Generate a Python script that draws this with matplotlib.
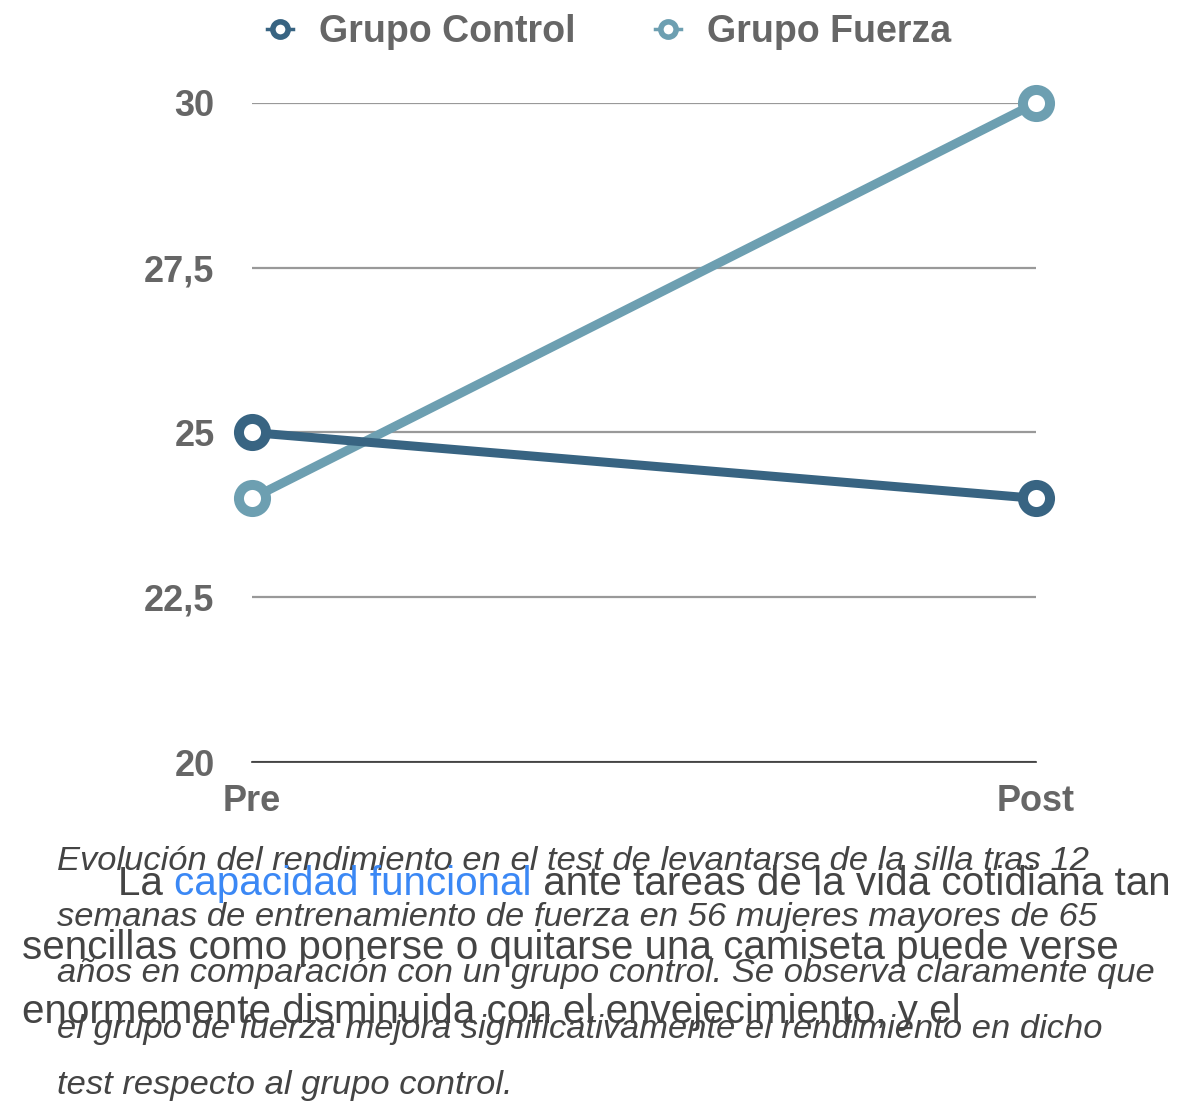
import matplotlib
matplotlib.use("Agg")
import matplotlib.pyplot as plt
from matplotlib.lines import Line2D

# ---- data ----
categories = ["Pre", "Post"]
control = [25, 24]
fuerza = [24, 30]
series_names = ["Grupo Control", "Grupo Fuerza"]
yticks = [20, 22.5, 25, 27.5, 30]
ytick_labels = ["20", "22,5", "25", "27,5", "30"]

caption_lines = [
    "Evolución del rendimiento en el test de levantarse de la silla tras 12",
    "semanas de entrenamiento de fuerza en 56 mujeres mayores de 65",
    "años en comparación con un grupo control. Se observa claramente que",
    "el grupo de fuerza mejora significativamente el rendimiento en dicho",
    "test respecto al grupo control.",
]
para_segments_line1 = [("La ", "#444444"), ("capacidad funcional", "#3b88f5"),
                       (" ante tareas de la vida cotidiana tan", "#444444")]
para_lines = [
    "sencillas como ponerse o quitarse una camiseta puede verse",
    "enormemente disminuida con el envejecimiento, y el",
]

C_CONTROL = "#386482"
C_FUERZA = "#6d9fb1"
C_TICK = "#666666"

W, H = 1198, 1102
fig = plt.figure(figsize=(W / 100, H / 100), dpi=100)
plt.rcParams["font.family"] = ["Liberation Sans", "DejaVu Sans"]

ax = fig.add_axes([252 / W, 1 - 762 / H, (1036 - 252) / W, (762 - 103) / H])
x = list(range(len(categories)))

ax.plot(x, fuerza, color=C_FUERZA, lw=6.5, marker="o", ms=19.5, mew=7.2,
        mfc="white", mec=C_FUERZA, clip_on=False, zorder=3, solid_capstyle="butt")
ax.plot(x, control, color=C_CONTROL, lw=6.5, marker="o", ms=19.5, mew=7.2,
        mfc="white", mec=C_CONTROL, clip_on=False, zorder=4, solid_capstyle="butt")

ax.set_xlim(0, 1)
ax.set_ylim(20, 30)
ax.set_yticks(yticks)
ax.set_yticklabels(ytick_labels)
ax.set_xticks(x)
ax.set_xticklabels(categories)
for s in ["top", "right", "left"]:
    ax.spines[s].set_visible(False)
ax.spines["bottom"].set_color("#333333")
ax.spines["bottom"].set_linewidth(1.2)
ax.grid(axis="y", color="#999999", lw=1.6)
ax.set_axisbelow(True)
ax.tick_params(axis="y", length=0, pad=27, labelsize=26, labelcolor=C_TICK)
ax.tick_params(axis="x", length=0, pad=16, labelsize=26, labelcolor=C_TICK)
for lab in ax.get_xticklabels() + ax.get_yticklabels():
    lab.set_fontweight("bold")

handles = [
    Line2D([], [], color=C_CONTROL, lw=2.5, marker="o", ms=11, mew=4, mfc="white", mec=C_CONTROL),
    Line2D([], [], color=C_FUERZA, lw=2.5, marker="o", ms=11, mew=4, mfc="white", mec=C_FUERZA),
]
leg = fig.legend(handles, series_names, loc="center", bbox_to_anchor=(609 / W, 1 - 32 / H),
                 ncol=2, frameon=False, handlelength=0.7, handletextpad=0.7,
                 columnspacing=2.1, prop={"size": 27, "weight": "bold"})
for t in leg.get_texts():
    t.set_color(C_TICK)

# caption (italic)
cap_base = [870, 926, 982, 1038, 1094]
for line, yb in zip(caption_lines, cap_base):
    fig.text(57 / W, 1 - yb / H, line, fontsize=24.8, style="italic", color="#444444",
             va="baseline", ha="left")

# paragraph (normal)
renderer = fig.canvas.get_renderer()
xpos = 118
for seg, col in para_segments_line1:
    t = fig.text(xpos / W, 1 - 895 / H, seg, fontsize=29.1, color=col, va="baseline", ha="left")
    bb = t.get_window_extent(renderer=renderer)
    xpos = bb.x1
para_base = [959, 1023]
for line, yb in zip(para_lines, para_base):
    fig.text(22 / W, 1 - yb / H, line, fontsize=29.1, color="#444444", va="baseline", ha="left")

fig.savefig("out.png", dpi=100)
